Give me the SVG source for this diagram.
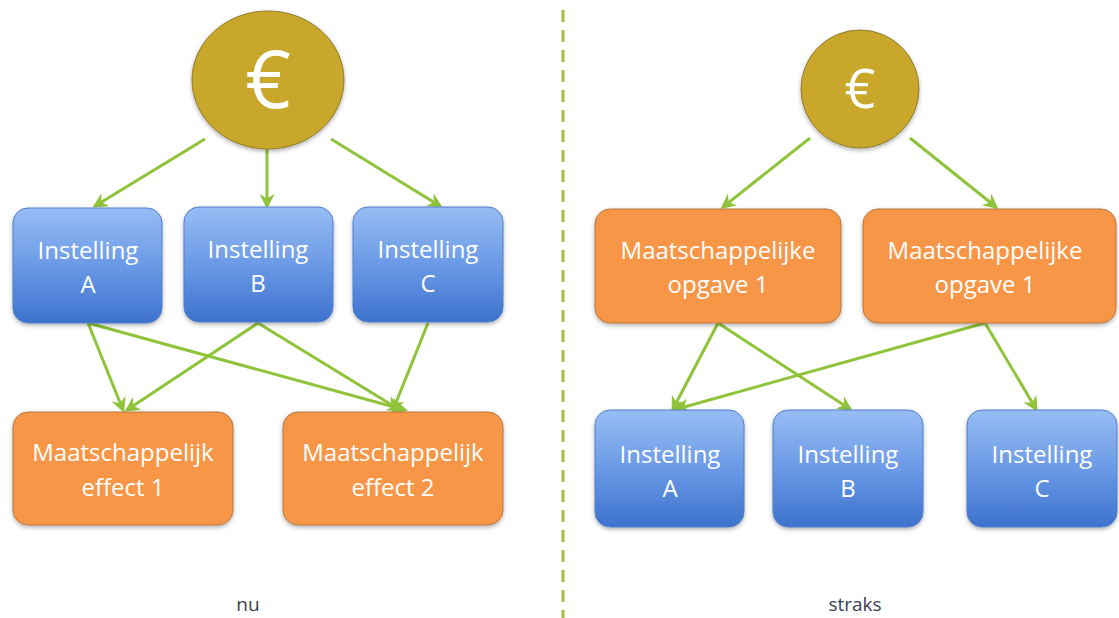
<svg xmlns="http://www.w3.org/2000/svg" width="1119" height="618" viewBox="0 0 1119 618">
<defs>
<linearGradient id="blue" x1="0" y1="0" x2="0" y2="1">
<stop offset="0" stop-color="#98bdf5"/>
<stop offset="0.55" stop-color="#6696e4"/>
<stop offset="1" stop-color="#3d72cd"/>
</linearGradient>
<marker id="ah" viewBox="0 0 10 10" refX="8" refY="5" markerWidth="5" markerHeight="5" orient="auto" markerUnits="strokeWidth">
<path d="M0,0 L10,5 L0,10 L3,5 Z" fill="#8fc43a"/>
</marker>
<filter id="sh" x="-10%" y="-10%" width="120%" height="130%">
<feDropShadow dx="0" dy="2" stdDeviation="2" flood-color="#000" flood-opacity="0.3"/>
</filter>
</defs>
<style>
.b{fill:url(#blue);stroke:#4f7fc9;stroke-width:1;filter:url(#sh)}
.o{fill:#f79646;stroke:#b8763f;stroke-width:1;filter:url(#sh)}
.e{fill:#c8a72b;stroke:#8f7a2a;stroke-width:1;filter:url(#sh)}
.t{font-family:"Open Sans","Liberation Sans",sans-serif;font-size:24px;fill:#ffffff;text-anchor:middle}
.c{stroke:#8fc43a;stroke-width:3;fill:none;marker-end:url(#ah)}
.lbl{font-family:"Open Sans","Liberation Sans",sans-serif;font-size:19px;fill:#3a4050;text-anchor:middle}
</style>
<rect width="1119" height="618" fill="#ffffff"/>
<line x1="563" y1="10" x2="563" y2="618" stroke="#a3c13a" stroke-width="3" stroke-dasharray="12,8"/>
<g id="connectors">
<line class="c" x1="205" y1="139" x2="95" y2="206"/>
<line class="c" x1="267" y1="149" x2="267" y2="206"/>
<line class="c" x1="331" y1="139" x2="440" y2="206"/>
<line class="c" x1="88" y1="323" x2="123" y2="410"/>
<line class="c" x1="88" y1="323" x2="405" y2="410"/>
<line class="c" x1="258" y1="323" x2="127" y2="410"/>
<line class="c" x1="258" y1="323" x2="400" y2="410"/>
<line class="c" x1="428" y1="323" x2="393" y2="410"/>
<line class="c" x1="810" y1="138" x2="723" y2="207"/>
<line class="c" x1="910" y1="138" x2="996" y2="207"/>
<line class="c" x1="718" y1="323" x2="673" y2="409"/>
<line class="c" x1="718" y1="323" x2="850" y2="409"/>
<line class="c" x1="985" y1="323" x2="677" y2="409"/>
<line class="c" x1="985" y1="323" x2="1036" y2="409"/>
</g>
<g id="euro-nu">
<ellipse class="e" cx="268" cy="80" rx="76" ry="69"/>
<text x="268" y="108" font-family="'Open Sans','Liberation Sans',sans-serif" font-size="80" fill="#ffffff" text-anchor="middle">€</text>
</g>
<g id="inst-a-nu">
<rect class="b" x="13" y="208" width="149" height="115" rx="15"/>
<text class="t" x="88" y="259">Instelling</text>
<text class="t" x="88" y="293">A</text>
</g>
<g id="inst-b-nu">
<rect class="b" x="184" y="207" width="149" height="115" rx="15"/>
<text class="t" x="258" y="258">Instelling</text>
<text class="t" x="258" y="292">B</text>
</g>
<g id="inst-c-nu">
<rect class="b" x="353" y="207" width="150" height="115" rx="15"/>
<text class="t" x="428" y="258">Instelling</text>
<text class="t" x="428" y="292">C</text>
</g>
<g id="effect-1">
<rect class="o" x="13" y="412" width="220" height="113" rx="15"/>
<text class="t" x="123" y="461">Maatschappelijk</text>
<text class="t" x="123" y="496">effect 1</text>
</g>
<g id="effect-2">
<rect class="o" x="283" y="412" width="220" height="113" rx="15"/>
<text class="t" x="393" y="461">Maatschappelijk</text>
<text class="t" x="393" y="496">effect 2</text>
</g>
<g id="euro-straks">
<circle class="e" cx="860" cy="89" r="59"/>
<text x="860" y="108" font-family="'Open Sans','Liberation Sans',sans-serif" font-size="54" fill="#ffffff" text-anchor="middle">€</text>
</g>
<g id="opgave-1a">
<rect class="o" x="595" y="209" width="246" height="114" rx="15"/>
<text class="t" x="718" y="259">Maatschappelijke</text>
<text class="t" x="718" y="293">opgave 1</text>
</g>
<g id="opgave-1b">
<rect class="o" x="863" y="209" width="253" height="114" rx="15"/>
<text class="t" x="985" y="259">Maatschappelijke</text>
<text class="t" x="985" y="293">opgave 1</text>
</g>
<g id="inst-a-straks">
<rect class="b" x="595" y="410" width="149" height="117" rx="15"/>
<text class="t" x="670" y="463">Instelling</text>
<text class="t" x="670" y="497">A</text>
</g>
<g id="inst-b-straks">
<rect class="b" x="773" y="410" width="150" height="117" rx="15"/>
<text class="t" x="848" y="463">Instelling</text>
<text class="t" x="848" y="497">B</text>
</g>
<g id="inst-c-straks">
<rect class="b" x="967" y="410" width="150" height="117" rx="15"/>
<text class="t" x="1042" y="463">Instelling</text>
<text class="t" x="1042" y="497">C</text>
</g>
<text class="lbl" x="248" y="611">nu</text>
<text class="lbl" x="855" y="611">straks</text>
</svg>
